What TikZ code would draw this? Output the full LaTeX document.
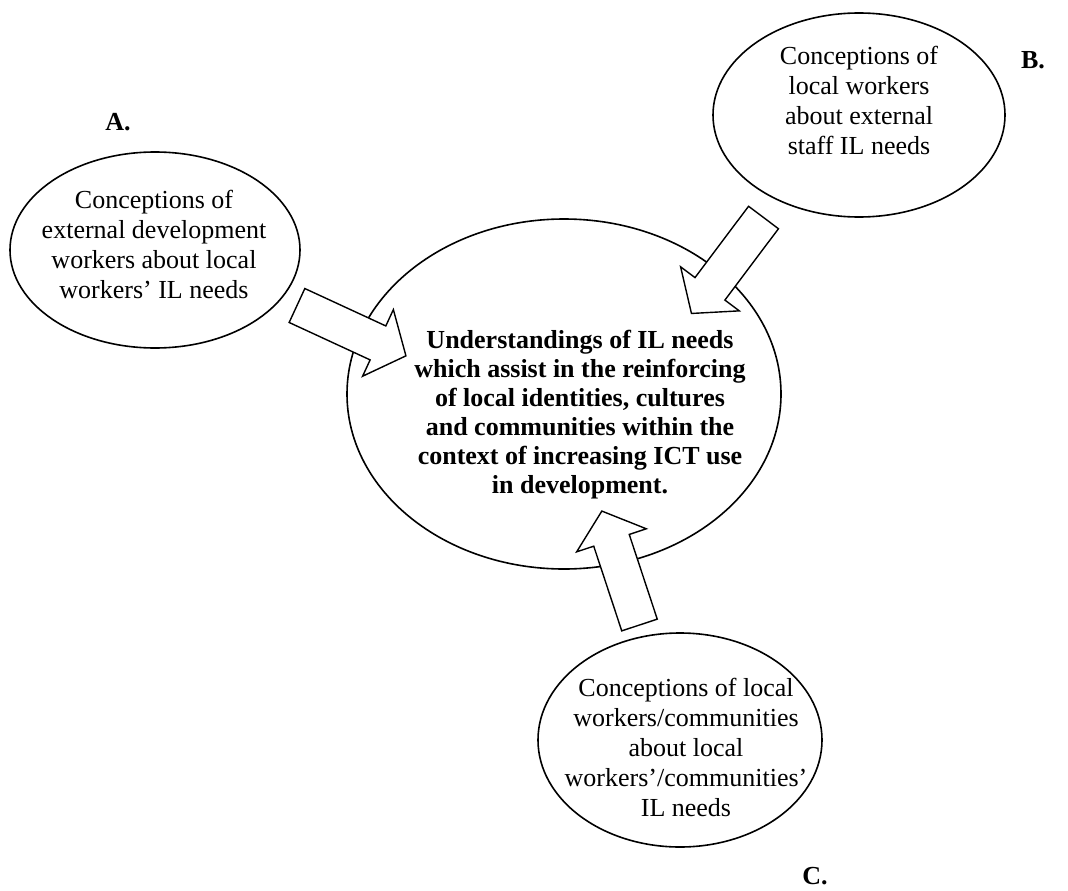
\documentclass[tikz,border=0pt]{standalone}
\usepackage{fontspec}
\setmainfont{Liberation Serif}
\usetikzlibrary{shapes.geometric,shapes.arrows}

\tikzset{
  bubble/.style={draw, ellipse, line width=1.6pt, inner sep=0pt, outer sep=0pt},
  conc/.style={align=center, inner sep=0pt, font=\fontsize{26}{30}\selectfont},
  core/.style={align=center, inner sep=0pt, font=\bfseries\fontsize{26}{29}\selectfont},
  tag/.style={inner sep=0pt, font=\bfseries\fontsize{26}{30}\selectfont},
  blockarrow/.style={draw, fill=white, line width=1.4pt, single arrow,
    inner sep=18pt, outer sep=0pt, minimum height=120pt, minimum width=72pt,
    single arrow head extend=18pt, single arrow tip angle=100, anchor=tail}
}

\begin{document}
\begin{tikzpicture}[x=1pt, y=-1pt]
  \useasboundingbox (0,0) rectangle (1068,891);

  % the four conceptions
  \node[bubble, minimum width=290pt, minimum height=196pt] (ellA) at (155,250) {};
  \node[bubble, minimum width=292pt, minimum height=204pt] (ellB) at (859,115) {};
  \node[bubble, minimum width=434pt, minimum height=350pt] (ellM) at (564,394) {};
  \node[bubble, minimum width=284pt, minimum height=214pt] (ellC) at (680,740) {};

  % block arrows pointing into the central understanding
  \node[blockarrow, rotate=-24.8] (arrA) at (297,305.5) {};
  \node[blockarrow, rotate=-126.9] (arrB) at (763.5,217.5) {};
  \node[blockarrow, rotate=108.3] (arrC) at (639.5,625) {};

  % texts
  \node[conc] (txtA) at (154,244) {Conceptions of\\external development\\workers about local\\workers’ IL needs};
  \node[conc] (txtB) at (859,100) {Conceptions of\\local workers\\about external\\staff IL needs};
  \node[conc] (txtC) at (686,747) {Conceptions of local\\workers/communities\\about local\\workers’/communities’\\IL needs};
  \node[core] (txtM) at (580,415) {Understandings of IL needs\\which assist in the reinforcing\\of local identities, cultures\\and communities within the\\context of increasing ICT use\\in development.};

  % letters
  \node[tag] (tagA) at (118,122) {A.};
  \node[tag] (tagB) at (1033,60) {B.};
  \node[tag] (tagC) at (815,876) {C.};
\end{tikzpicture}
\end{document}
